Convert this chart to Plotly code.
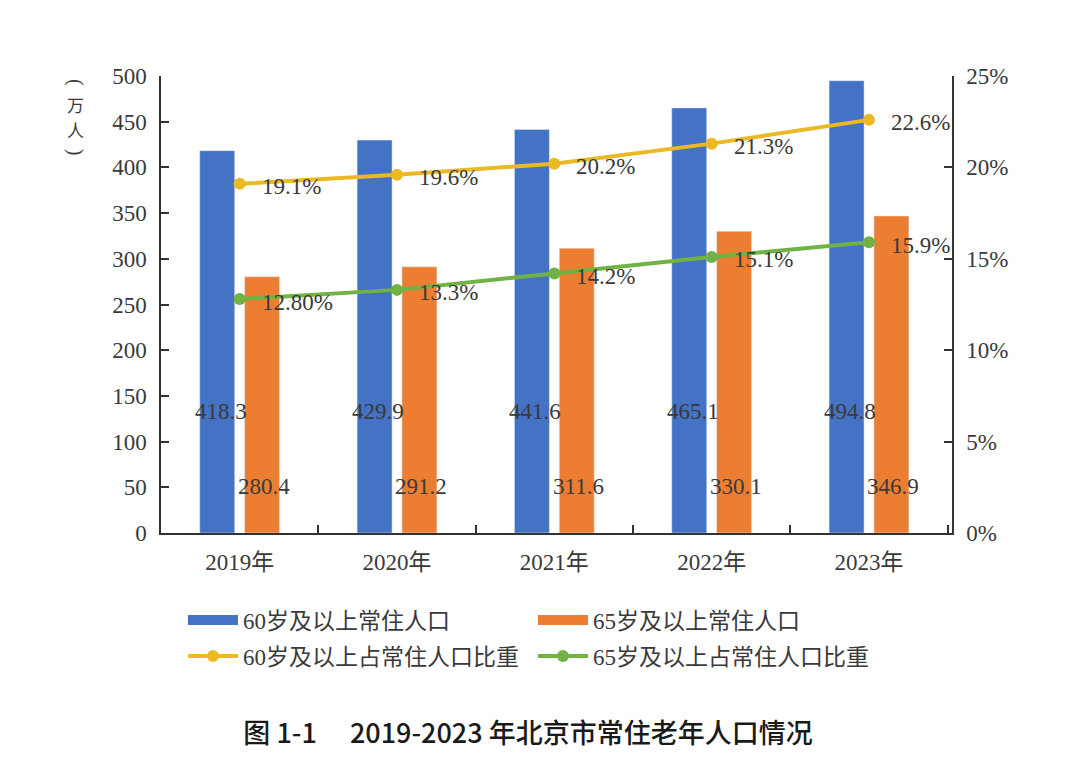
import plotly.graph_objects as go

# ---------------- data ----------------
years = ["2019年", "2020年", "2021年", "2022年", "2023年"]
pop60 = [418.3, 429.9, 441.6, 465.1, 494.8]          # 60岁及以上常住人口 (万人)
pop65 = [280.4, 291.2, 311.6, 330.1, 346.9]          # 65岁及以上常住人口 (万人)
share60 = [19.1, 19.6, 20.2, 21.3, 22.6]             # 60岁及以上占常住人口比重 (%)
share65 = [12.8, 13.3, 14.2, 15.1, 15.9]             # 65岁及以上占常住人口比重 (%)
share60_labels = ["19.1%", "19.6%", "20.2%", "21.3%", "22.6%"]
share65_labels = ["12.80%", "13.3%", "14.2%", "15.1%", "15.9%"]
names = ["60岁及以上常住人口", "65岁及以上常住人口",
         "60岁及以上占常住人口比重", "65岁及以上占常住人口比重"]
yunit_chars = ["(", "万", "人", ")"]
title_text = "图 1-1　 2019-2023 年北京市常住老年人口情况"

# ---------------- style ----------------
BLUE = "#4472C4"
ORANGE = "#ED7D31"
YELLOW = "#EBB924"
GREEN = "#70B244"
TXT = "#3a3a3a"
AX = "#333333"
SERIF = "Liberation Serif, 'Noto Sans CJK SC', serif"
SANS = "'Noto Sans CJK SC', sans-serif"

fig = go.Figure()

fig.add_trace(go.Bar(x=years, y=pop60, marker_color=BLUE, name=names[0], showlegend=False))
fig.add_trace(go.Bar(x=years, y=pop65, marker_color=ORANGE, name=names[1], showlegend=False))

fig.add_trace(go.Scatter(x=years, y=share60, yaxis="y2", mode="lines+markers",
                         line=dict(color=YELLOW, width=4), marker=dict(size=12, color=YELLOW),
                         name=names[2], legend="legend2"))
fig.add_trace(go.Scatter(x=years, y=share65, yaxis="y2", mode="lines+markers",
                         line=dict(color=GREEN, width=4), marker=dict(size=12, color=GREEN),
                         name=names[3], legend="legend2"))

# legend stand-ins for the bars (wide rectangles)
fig.add_trace(go.Scatter(x=[None], y=[None], mode="lines", line=dict(color=BLUE, width=10),
                         name=names[0], legend="legend"))
fig.add_trace(go.Scatter(x=[None], y=[None], mode="lines", line=dict(color=ORANGE, width=10),
                         name=names[1], legend="legend"))

annotations = []
for i, yr in enumerate(years):
    annotations.append(dict(x=yr, y=133, xref="x", yref="y", text=f"{pop60[i]}", showarrow=False,
                            xshift=-19, font=dict(family=SERIF, size=23, color=TXT)))
    annotations.append(dict(x=yr, y=51, xref="x", yref="y", text=f"{pop65[i]}", showarrow=False,
                            xshift=24, font=dict(family=SERIF, size=23, color=TXT)))
    annotations.append(dict(x=yr, y=share60[i], xref="x", yref="y2", text=share60_labels[i],
                            showarrow=False, xanchor="left", xshift=20, yshift=-3,
                            font=dict(family=SERIF, size=23, color=TXT)))
    annotations.append(dict(x=yr, y=share65[i], xref="x", yref="y2", text=share65_labels[i],
                            showarrow=False, xanchor="left", xshift=20, yshift=-3,
                            font=dict(family=SERIF, size=23, color=TXT)))

# vertical axis unit "(万人)" written top to bottom
unit_y = [0.987, 0.937, 0.882, 0.834]
for ch, yy in zip(yunit_chars, unit_y):
    is_paren = ch in "()"
    annotations.append(dict(x=-0.1087, y=yy, xref="paper", yref="paper", text=ch,
                            xanchor="center", yanchor="middle",
                            showarrow=False, textangle=90 if is_paren else 0,
                            font=dict(family=SERIF if is_paren else SANS,
                                      size=20 if is_paren else 17, color=TXT)))

axis_common = dict(showline=True, linecolor=AX, linewidth=1.5, ticks="inside", ticklen=8,
                   tickcolor=AX, tickwidth=1.5, showgrid=False, zeroline=False,
                   tickfont=dict(family=SERIF, size=23, color=TXT))

legend_common = dict(orientation="h", xref="container", yref="container", x=0.162,
                     xanchor="left", yanchor="middle", entrywidth=285, itemwidth=50,
                     font=dict(family=SERIF, size=23, color=TXT), bgcolor="rgba(0,0,0,0)")

fig.update_layout(
    width=1080, height=777,
    paper_bgcolor="white", plot_bgcolor="white",
    margin=dict(l=153, r=136, t=68, b=252, autoexpand=False),
    barmode="group", bargap=0.43, bargroupgap=0.22,
    xaxis=dict(**axis_common, tickson="boundaries", ticklabelstandoff=8),
    yaxis=dict(**axis_common, range=[0, 500], dtick=50, ticklabelstandoff=8),
    yaxis2=dict(**axis_common, range=[0, 25], dtick=5, ticksuffix="%", overlaying="y",
                side="right", ticklabelstandoff=8),
    legend=dict(**legend_common, y=1 - 612 / 777),
    legend2=dict(**legend_common, y=1 - 648 / 777),
    title=dict(text=title_text, xref="container", yref="container", x=0.4815, y=1 - 726 / 777,
               xanchor="center", yanchor="middle",
               font=dict(family=SANS, size=27, color="#1a1a1a", weight=500)),
    annotations=annotations,
)

fig.write_html("out.html")
